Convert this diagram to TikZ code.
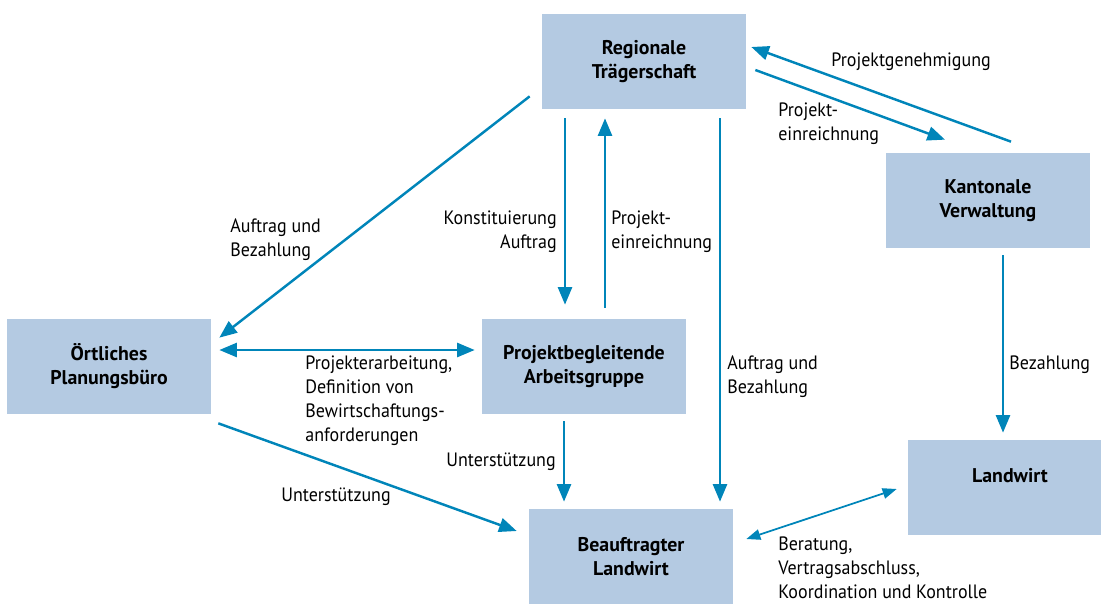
\documentclass[tikz,border=0pt]{standalone}
\usepackage{fontspec}
\setmainfont{PT Sans}
\newfontfamily\lblfont[FakeStretch=0.93]{PT Sans}
\usetikzlibrary{arrows.meta,calc}
\definecolor{arrowblue}{RGB}{0,133,185}
\definecolor{boxblue}{RGB}{180,202,226}
\begin{document}
\begin{tikzpicture}[x=0.02cm,y=-0.02cm,
  box/.style={fill=boxblue,minimum width=4.08cm,minimum height=1.9cm,inner sep=0pt,align=center,font=\fontsize{11.3}{13.6}\selectfont\bfseries},
  lbl/.style={inner sep=0pt,font=\lblfont\fontsize{11}{13.6}\selectfont},
  arr/.style={draw=arrowblue,line width=1.4pt,-{Triangle[length=10pt,width=8pt]}},
  darr/.style={draw=arrowblue,line width=1.4pt,{Triangle[length=10pt,width=8pt]}-{Triangle[length=10pt,width=8pt]}},
  tarr/.style={draw=arrowblue,line width=1pt,{Triangle[length=8pt,width=6pt]}-{Triangle[length=8pt,width=6pt]}}]
\useasboundingbox (0,0) rectangle (1101,605);
% boxes
\node[box] (reg) at (644,61.5) {Regionale\\Trägerschaft};
\node[box] (kan) at (988,200.5) {Kantonale\\Verwaltung};
\node[box] (ort) at (109,366.5) {Örtliches\\Planungsbüro};
\node[box] (pag) at (584,366.5) {Projektbegleitende\\Arbeitsgruppe};
\node[box] (lw) at (1010,487.5) {Landwirt\\\phantom{L}};
\node[box] (bl) at (631,556.5) {Beauftragter\\Landwirt};
% arrows
\draw[arr] ($(reg.south west)+(-12,-13)$) -- ($(ort.north east)+(8,19)$);
\draw[darr] ($(ort.east)+(8,-16.5)$) -- ($(pag.west)+(-7,-16.5)$);
\draw[arr] ($(ort.south east)+(7,9)$) -- ($(bl.west)+(-12,-25.5)$);
\draw[arr] ($(reg.south)+(-79,9)$) -- ($(pag.north)+(-19,-14)$);
\draw[arr] ($(pag.north)+(21,-11)$) -- ($(reg.south)+(-39,9)$);
\draw[arr] ($(reg.south)+(76,9)$) -- ($(bl.north)+(89,-7)$);
\draw[arr] ($(pag.south)+(-20,7)$) -- ($(bl.north)+(-67,-7)$);
\draw[arr] ($(reg.east)+(9,8.5)$) -- ($(kan.north)+(-43,-13)$);
\draw[arr] ($(kan.north)+(23,-11)$) -- ($(reg.east)+(5,-14.5)$);
\draw[arr] ($(kan.south)+(15,7)$) -- ($(lw.north)+(-7,-7)$);
\draw[tarr] ($(lw.west)+(-11,1.5)$) -- ($(bl.east)+(13,-17.5)$);
% labels
\node[lbl,anchor=west,align=left] (l1) at (230,240) {Auftrag und\\Bezahlung};
\node[lbl,anchor=east,align=right] (l2) at (557,232) {Konstituierung\\Auftrag};
\node[lbl,anchor=west,align=left] (l3) at (611,232) {Projekt-\\einreichnung};
\node[lbl,anchor=west,align=left] (l4) at (831,62) {Projektgenehmigung};
\node[lbl,anchor=west,align=left] (l5) at (778,124) {Projekt-\\einreichnung};
\node[lbl,anchor=west,align=left] (l6) at (727,376.5) {Auftrag und\\Bezahlung};
\node[lbl,anchor=west,align=left] (l7) at (1009,365) {Bezahlung};
\node[lbl,anchor=west,align=left] (l8) at (305,401) {Projekterarbeitung,\\Definition von\\Bewirtschaftungs-\\anforderungen};
\node[lbl,anchor=east,align=right] (l9) at (556,462) {Unterstützung};
\node[lbl,anchor=west,align=left] (l10) at (281,497) {Unterstützung};
\node[lbl,anchor=west,align=left] (l11) at (778,568) {Beratung,\\Vertragsabschluss,\\Koordination und Kontrolle};
\end{tikzpicture}
\end{document}
